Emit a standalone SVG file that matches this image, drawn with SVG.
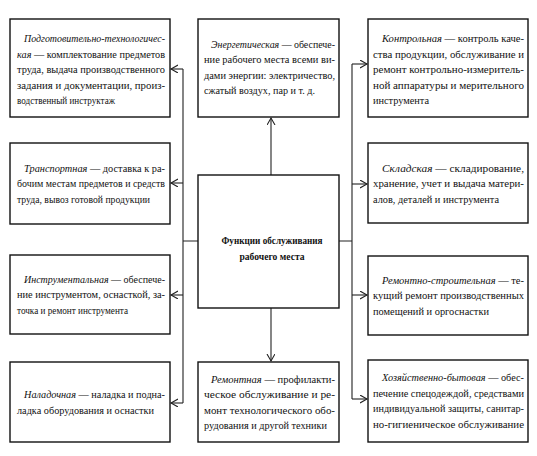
<svg xmlns="http://www.w3.org/2000/svg" width="537" height="456" viewBox="0 0 537 456" font-family="Liberation Serif, Times New Roman, DejaVu Serif, serif">
<defs>
<marker id="arr" markerUnits="userSpaceOnUse" markerWidth="10" markerHeight="10" refX="7" refY="4" orient="auto">
<path d="M0,0 L7,4 L0,8" fill="none" stroke="#222" stroke-width="1.1"/>
</marker>
<style>
.box{fill:#fff;stroke:#111;stroke-width:1.4}
.t{font-size:10.5px;fill:#111}
.i{font-style:italic}
.b{font-weight:bold}
.c{fill:none;stroke:#222;stroke-width:1.1}
</style>
</defs>
<rect width="537" height="456" fill="#fff"/>
<g id="connectors">
<path class="c" d="M198,241 H183 M183,69 V403"/>
<path class="c" d="M183,69 H171" marker-end="url(#arr)"/>
<path class="c" d="M183,183 H171" marker-end="url(#arr)"/>
<path class="c" d="M183,295 H171" marker-end="url(#arr)"/>
<path class="c" d="M183,403 H171" marker-end="url(#arr)"/>
<path class="c" d="M339,241 H352 M352,64 V399"/>
<path class="c" d="M352,64 H367" marker-end="url(#arr)"/>
<path class="c" d="M352,184 H367" marker-end="url(#arr)"/>
<path class="c" d="M352,295 H367" marker-end="url(#arr)"/>
<path class="c" d="M352,399 H367" marker-end="url(#arr)"/>
<path class="c" d="M271,175 V118" marker-end="url(#arr)"/>
<path class="c" d="M271,308 V361" marker-end="url(#arr)"/>
</g>
<g id="n-podgot">
<rect class="box" x="10" y="19" width="160" height="98"/>
<text class="t" x="24" y="42" textLength="141" lengthAdjust="spacingAndGlyphs"><tspan class="i">Подготовительно-технологичес-</tspan></text>
<text class="t" x="17" y="57.5" textLength="148" lengthAdjust="spacingAndGlyphs"><tspan class="i">кая</tspan> — комплектование предметов</text>
<text class="t" x="17" y="73" textLength="148" lengthAdjust="spacingAndGlyphs">труда, выдача производственного</text>
<text class="t" x="17" y="88.5" textLength="148" lengthAdjust="spacingAndGlyphs">задания и документации, произ-</text>
<text class="t" x="17" y="104" textLength="98" lengthAdjust="spacingAndGlyphs">водственный инструктаж</text>
</g>
<g id="n-transp">
<rect class="box" x="10" y="143" width="160" height="81"/>
<text class="t" x="24" y="171.5" textLength="141" lengthAdjust="spacingAndGlyphs"><tspan class="i">Транспортная</tspan> — доставка к ра-</text>
<text class="t" x="17" y="187" textLength="148" lengthAdjust="spacingAndGlyphs">бочим местам предметов и средств</text>
<text class="t" x="17" y="202.5" textLength="133" lengthAdjust="spacingAndGlyphs">труда, вывоз готовой продукции</text>
</g>
<g id="n-instr">
<rect class="box" x="10" y="255" width="160" height="79"/>
<text class="t" x="24" y="282.5" textLength="141" lengthAdjust="spacingAndGlyphs"><tspan class="i">Инструментальная</tspan> — обеспече-</text>
<text class="t" x="17" y="298" textLength="148" lengthAdjust="spacingAndGlyphs">ние инструментом, оснасткой, за-</text>
<text class="t" x="17" y="313.5" textLength="111" lengthAdjust="spacingAndGlyphs">точка и ремонт инструмента</text>
</g>
<g id="n-nalad">
<rect class="box" x="10" y="362" width="160" height="80"/>
<text class="t" x="24" y="398" textLength="141" lengthAdjust="spacingAndGlyphs"><tspan class="i">Наладочная</tspan> — наладка и подна-</text>
<text class="t" x="17" y="413.5" textLength="137" lengthAdjust="spacingAndGlyphs">ладка оборудования и оснастки</text>
</g>
<g id="n-energ">
<rect class="box" x="198" y="19" width="141" height="98"/>
<text class="t" x="211" y="47.5" textLength="124" lengthAdjust="spacingAndGlyphs"><tspan class="i">Энергетическая</tspan> — обеспече-</text>
<text class="t" x="204" y="63" textLength="131" lengthAdjust="spacingAndGlyphs">ние рабочего места всеми ви-</text>
<text class="t" x="204" y="78.5" textLength="131" lengthAdjust="spacingAndGlyphs">дами энергии: электричество,</text>
<text class="t" x="204" y="94" textLength="111" lengthAdjust="spacingAndGlyphs">сжатый воздух, пар и т. д.</text>
</g>
<g id="n-center">
<rect class="box" x="198" y="175" width="141" height="133"/>
<text class="t b" x="272" y="244" text-anchor="middle" textLength="101" lengthAdjust="spacingAndGlyphs">Функции обслуживания</text>
<text class="t b" x="272" y="260" text-anchor="middle" textLength="65" lengthAdjust="spacingAndGlyphs">рабочего места</text>
</g>
<g id="n-remont">
<rect class="box" x="198" y="362" width="141" height="80"/>
<text class="t" x="211" y="382.5" textLength="124" lengthAdjust="spacingAndGlyphs"><tspan class="i">Ремонтная</tspan> — профилакти-</text>
<text class="t" x="204" y="398" textLength="131" lengthAdjust="spacingAndGlyphs">ческое обслуживание и ре-</text>
<text class="t" x="204" y="413.5" textLength="131" lengthAdjust="spacingAndGlyphs">монт технологического обо-</text>
<text class="t" x="204" y="429" textLength="123" lengthAdjust="spacingAndGlyphs">рудования и другой техники</text>
</g>
<g id="n-kontr">
<rect class="box" x="368" y="19" width="160" height="98"/>
<text class="t" x="382" y="42" textLength="142" lengthAdjust="spacingAndGlyphs"><tspan class="i">Контрольная</tspan> — контроль каче-</text>
<text class="t" x="373" y="57.5" textLength="151" lengthAdjust="spacingAndGlyphs">ства продукции, обслуживание и</text>
<text class="t" x="373" y="73" textLength="151" lengthAdjust="spacingAndGlyphs">ремонт контрольно-измеритель-</text>
<text class="t" x="373" y="88.5" textLength="151" lengthAdjust="spacingAndGlyphs">ной аппаратуры и мерительного</text>
<text class="t" x="373" y="104" textLength="56" lengthAdjust="spacingAndGlyphs">инструмента</text>
</g>
<g id="n-sklad">
<rect class="box" x="368" y="143" width="160" height="80"/>
<text class="t" x="382" y="171.5" textLength="142" lengthAdjust="spacingAndGlyphs"><tspan class="i">Складская</tspan> — складирование,</text>
<text class="t" x="373" y="187" textLength="151" lengthAdjust="spacingAndGlyphs">хранение, учет и выдача матери-</text>
<text class="t" x="373" y="202.5" textLength="126" lengthAdjust="spacingAndGlyphs">алов, деталей и инструмента</text>
</g>
<g id="n-remstr">
<rect class="box" x="368" y="256" width="160" height="79"/>
<text class="t" x="382" y="283.5" textLength="142" lengthAdjust="spacingAndGlyphs"><tspan class="i">Ремонтно-строительная</tspan> — те-</text>
<text class="t" x="373" y="299" textLength="151" lengthAdjust="spacingAndGlyphs">кущий ремонт производственных</text>
<text class="t" x="373" y="314.5" textLength="116" lengthAdjust="spacingAndGlyphs">помещений и оргоснастки</text>
</g>
<g id="n-hoz">
<rect class="box" x="368" y="360" width="160" height="82"/>
<text class="t" x="382" y="381" textLength="142" lengthAdjust="spacingAndGlyphs"><tspan class="i">Хозяйственно-бытовая</tspan> — обес-</text>
<text class="t" x="373" y="396.5" textLength="151" lengthAdjust="spacingAndGlyphs">печение спецодеждой, средствами</text>
<text class="t" x="373" y="412" textLength="151" lengthAdjust="spacingAndGlyphs">индивидуальной защиты, санитар-</text>
<text class="t" x="373" y="427.5" textLength="151" lengthAdjust="spacingAndGlyphs">но-гигиеническое обслуживание</text>
</g>
</svg>
